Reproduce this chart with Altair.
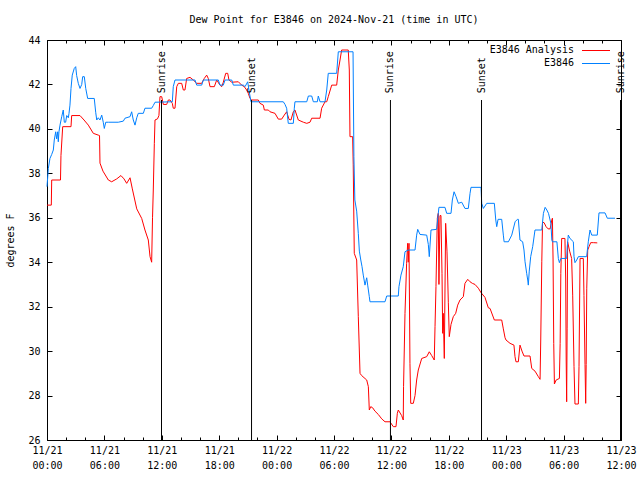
import altair as alt
import pandas as pd

# ---------------- data (hours after 2024-11-21 00:00 UTC) ----------------
analysis_hours = [0.00, 0.45, 0.49, 1.41, 1.46, 1.64, 2.51, 2.58, 3.45, 3.87, 4.32, 4.84, 5.36, 5.49, 5.54,
                  5.85, 6.41, 6.76, 7.29, 7.73, 8.05, 8.33, 8.68, 8.92, 9.38, 9.90, 10.24, 10.59, 10.77,
                  10.94, 11.03, 11.11, 11.22, 11.29, 11.55, 11.70, 11.81, 11.99, 12.16, 12.51, 12.68,
                  12.86, 13.10, 13.20, 13.38, 13.56, 13.73, 14.08, 14.25, 14.42, 14.60, 14.95, 15.29,
                  15.65, 16.17, 16.44, 16.69, 16.86, 17.04, 17.49, 17.74, 18.08, 18.26, 18.43, 18.68,
                  18.89, 19.02, 19.31, 20.00, 20.35, 20.62, 20.87, 21.04, 21.22, 21.40, 22.09, 22.26,
                  22.61, 22.72, 23.14, 23.31, 23.83, 24.18, 24.53, 24.80, 25.05, 25.30, 25.50, 25.75,
                  25.92, 26.27, 26.80, 27.15, 27.49, 27.67, 28.54, 28.71, 29.06, 29.24, 29.40, 29.76,
                  30.28, 30.45, 30.63, 30.80, 31.49, 31.60, 31.67, 31.95, 32.01, 32.12, 32.37, 32.54,
                  32.72, 32.89, 33.42, 33.59, 33.69, 33.84, 34.04, 34.28, 34.63, 34.99, 35.33, 35.85,
                  36.20, 36.48, 36.62, 36.72, 37.07, 37.24, 37.27, 37.42, 37.59, 37.70, 37.76, 37.84,
                  37.94, 38.02, 38.29, 38.47, 38.64, 38.81, 39.17, 39.69, 39.96, 40.21, 40.48, 40.56,
                  40.66, 40.80, 40.90, 40.97, 41.08, 41.18, 41.29, 41.36, 41.42, 41.53, 41.67, 41.81,
                  41.95, 42.05, 42.23, 42.47, 42.72, 42.93, 43.17, 43.52, 43.69, 43.98, 44.22, 44.46,
                  44.74, 45.09, 45.37, 45.78, 46.13, 46.31, 46.76, 47.53, 47.70, 47.88, 47.98, 48.40,
                  48.81, 48.92, 49.02, 49.27, 49.44, 49.65, 49.86, 50.49, 50.67, 51.01, 51.36, 51.54,
                  51.61, 51.72, 51.80, 51.96, 52.17, 52.38, 52.59, 52.77, 52.83, 52.90, 52.97, 53.04,
                  53.22, 53.56, 53.64, 53.71, 53.80, 54.14, 54.22, 54.27, 54.32, 54.37, 54.42, 54.63,
                  54.84, 54.95, 55.09, 55.19, 55.54, 55.61, 55.72, 56.06, 56.13, 56.24, 56.31, 56.36,
                  56.42, 56.52, 56.66, 56.83, 57.11, 57.52]
analysis_values = [36.57, 36.57, 37.7, 37.7, 38.8, 40.1, 40.1, 40.6, 40.6, 40.4, 40.17, 39.8, 39.72, 39.7, 38.46,
                   38.1, 37.7, 37.62, 37.75, 37.9, 37.75, 37.55, 37.8, 37.3, 36.4, 35.97, 35.45, 35.0, 34.25,
                   34.0, 36.0, 37.25, 39.35, 40.4, 40.45, 40.6, 41.45, 41.45, 41.1, 41.1, 41.3,
                   41.3, 41.15, 40.93, 40.93, 41.9, 42.05, 42.05, 41.75, 41.75, 42.27, 42.32, 42.2,
                   42.05, 42.05, 42.27, 42.42, 42.27, 41.9, 41.9, 42.2, 41.97, 41.9, 42.1, 42.5,
                   42.5, 42.2, 42.1, 42.12, 41.97, 41.9, 41.75, 41.6, 41.37, 41.3, 41.3, 41.15,
                   41.07, 40.85, 40.85, 40.77, 40.7, 40.44, 40.44, 40.62, 40.77, 40.43, 40.4, 40.77,
                   40.85, 40.4, 40.3, 40.25, 40.3, 40.48, 40.48, 40.93, 41.22, 41.22, 41.45, 41.97,
                   41.97, 42.65, 43.1, 43.55, 43.55, 42.65, 39.65, 39.65, 38.38, 34.4, 34.1, 31.55,
                   29.0, 28.9, 28.7, 28.4, 27.35, 27.5, 27.45, 27.3, 27.15, 26.95, 26.82, 26.82,
                   26.6, 26.6, 27.2, 27.35, 27.1, 26.9, 28.4, 31.7, 33.95, 34.85, 34.0, 34.85,
                   29.45, 27.65, 27.65, 28.0, 28.7, 29.15, 29.67, 29.75, 29.97, 29.8, 29.6, 31.1,
                   32.9, 35.98, 36.2, 33.0, 36.1, 36.1, 33.5, 30.8, 31.7, 29.67, 35.75, 34.5,
                   32.2, 30.65, 31.2, 31.55, 31.7, 32.07, 32.3, 32.45, 33.05, 33.23, 33.12, 33.05,
                   33.0, 32.83, 32.63, 32.42, 31.95, 31.92, 31.4, 31.4, 31.0, 30.6, 30.5, 30.35,
                   30.27, 29.75, 29.52, 29.52, 30.27, 30.0, 29.78, 29.78, 29.22, 29.1, 28.85, 28.73,
                   30.5, 34.02, 35.8, 35.78, 35.6, 35.5, 35.5, 35.9, 35.98, 34.1, 30.35, 28.52,
                   28.7, 28.77, 30.35, 33.5, 35.07, 35.07, 33.2, 29.6, 27.72, 31.0, 34.92, 34.5,
                   34.17, 32.52, 29.3, 27.62, 27.62, 29.3, 34.17, 34.17, 32.5, 29.4, 27.65, 29.4,
                   32.83, 34.55, 34.7, 34.88, 34.88, 34.87]

obs_hours = [0.00, 0.14, 0.31, 0.49, 0.66, 0.76, 0.91, 1.01, 1.12, 1.18, 1.25, 1.36, 1.54, 1.70, 1.81,
             1.95, 2.06, 2.23, 2.30, 2.40, 2.51, 2.64, 2.85, 3.00, 3.10, 3.27, 3.45, 3.63, 3.73, 3.90,
             4.05, 4.25, 4.94, 5.09, 5.20, 5.36, 5.54, 5.72, 5.88, 5.99, 6.14, 6.41, 7.45, 7.98, 8.15,
             8.68, 8.85, 9.02, 9.20, 9.38, 9.54, 10.07, 10.24, 10.94, 11.11, 11.29, 13.10, 13.20,
             13.38, 15.47, 15.65, 16.17, 16.34, 17.91, 18.08, 18.43, 18.61, 19.31, 19.48, 20.52,
             20.70, 20.98, 21.11, 21.32, 24.70, 24.88, 25.05, 25.22, 25.75, 25.85, 25.92, 27.15,
             27.32, 27.67, 27.84, 28.26, 28.36, 28.54, 29.06, 29.24, 29.40, 30.28, 30.45, 31.99,
             32.08, 32.18, 32.37, 32.54, 32.65, 32.80, 32.93, 33.06, 33.24, 33.42, 33.52, 33.69,
             33.76, 35.33, 35.51, 36.72, 36.79, 37.00, 37.24, 37.42, 37.76, 38.47, 38.64, 38.75,
             38.99, 39.69, 39.86, 39.96, 40.14, 40.73, 40.90, 40.97, 41.60, 41.78, 42.23, 42.37,
             42.55, 42.76, 43.00, 43.35, 43.69, 44.04, 44.22, 44.32, 45.37, 45.44, 45.61, 45.97,
             46.76, 46.91, 47.01, 47.15, 47.53, 47.70, 47.78, 48.23, 48.58, 48.93, 49.17, 49.27,
             49.44, 49.72, 49.86, 49.97, 50.14, 50.25, 50.31, 50.41, 50.56, 50.77, 51.01, 51.72,
             51.89, 52.07, 52.25, 52.42, 52.67, 52.77, 52.83, 53.30, 53.45, 53.56, 53.71, 54.32,
             54.38, 54.49, 54.67, 55.02, 55.09, 55.19, 55.37, 55.54, 56.41, 56.58, 56.76, 56.94,
             57.52, 57.70, 58.33, 58.57, 59.37]
obs_values = [37.4, 38.22, 38.67, 38.85, 39.05, 39.5, 39.87, 39.55, 39.87, 39.42, 39.87, 40.17, 40.55, 40.85, 40.3,
              40.3, 40.6, 40.5, 40.7, 41.07, 41.82, 42.42, 42.72, 42.8, 42.4, 42.05, 41.82, 42.0, 42.35, 42.35,
              41.82, 41.37, 41.37, 40.75, 40.4, 40.5, 40.4, 40.62, 40.3, 40.02, 40.3, 40.3, 40.3, 40.35, 40.48,
              40.55, 40.77, 40.4, 40.17, 40.5, 40.7, 40.7, 40.93, 40.93, 41.05, 41.2, 41.22, 41.9,
              42.2, 42.2, 41.97, 41.97, 42.2, 42.2, 41.97, 41.97, 42.2, 42.2, 41.97, 41.97,
              41.9, 42.12, 41.75, 41.22, 41.22, 41.1, 40.93, 40.25, 40.25, 40.93, 41.22, 41.22,
              41.48, 41.48, 41.22, 41.22, 41.48, 41.22, 41.22, 41.75, 42.5, 42.5, 43.47, 43.47,
              38.75, 36.8, 36.3, 35.3, 34.5, 34.1, 33.8, 33.42, 32.97, 33.3, 32.97, 32.45,
              32.22, 32.22, 32.48, 32.48, 32.9, 33.42, 33.8, 34.47, 34.55, 34.55, 35.22, 35.48,
              35.25, 35.22, 34.8, 34.25, 35.45, 35.48, 36.2, 36.47, 36.47, 36.2, 36.2, 36.8,
              37.17, 36.95, 36.65, 36.7, 36.42, 36.42, 37.1, 37.37, 37.37, 36.65, 36.42, 36.65,
              36.65, 35.9, 35.6, 35.93, 35.93, 35.22, 34.92, 34.92, 35.22, 35.82, 35.93, 35.93,
              35.0, 34.92, 34.55, 34.02, 33.5, 33.2, 32.97, 33.6, 34.25, 34.7, 35.45, 35.45,
              36.2, 36.47, 36.35, 36.2, 35.75, 35.0, 34.92, 34.92, 34.17, 33.98, 34.17, 34.17,
              34.7, 35.22, 35.07, 34.92, 34.25, 33.98, 34.1, 34.25, 34.25, 34.92, 35.45, 35.22,
              35.22, 36.22, 36.22, 35.98, 35.98]

event_names = ["Sunrise", "Sunset", "Sunrise", "Sunset", "Sunrise"]
event_hours = [11.97, 21.38, 35.90, 45.42, 59.95]

x_major = [0, 6, 12, 18, 24, 30, 36, 42, 48, 54, 60]
x_minor = list(range(0, 61, 2))
y_ticks = [26, 28, 30, 32, 34, 36, 38, 40, 42, 44]

series_names = ["E3846 Analysis", "E3846"]
series_colors = ["#ff0000", "#0080ff"]

title_text = "Dew Point for E3846 on 2024-Nov-21 (time in UTC)"
y_title = "degrees F"

# ---------------- tables ----------------
df_a = pd.DataFrame({"hour": analysis_hours, "value": analysis_values, "series": series_names[0]})
df_o = pd.DataFrame({"hour": obs_hours, "value": obs_values, "series": series_names[1]})
df_a["idx"] = range(len(df_a))
df_o["idx"] = range(len(df_o))
df = pd.concat([df_a, df_o], ignore_index=True)
df_events = pd.DataFrame({"hour": event_hours, "name": event_names})
df_frame = pd.DataFrame({"hour": [0, 60], "value": [26, 44]})

FONT = "DejaVu Sans Mono"
FS = 10
XS = alt.Scale(domain=[0, 60], nice=False, zero=False)
YS = alt.Scale(domain=[26, 44], nice=False, zero=False)

label_expr = ("['11/' + (21 + floor(datum.value / 24)), "
              "((datum.value % 24) < 10 ? '0' : '') + (datum.value % 24) + ':00']")

common = dict(domain=False, grid=False, tickColor="black", tickWidth=1,
              labelFont=FONT, labelFontSize=FS, labelColor="black")

lines = alt.Chart(df).mark_line(strokeWidth=1).encode(
    x=alt.X("hour:Q", scale=XS, axis=alt.Axis(
        orient="bottom", values=x_major, tickSize=5, offset=-5, labelExpr=label_expr,
        labelPadding=5, labelLineHeight=15, labelFlush=False, labelOverlap=False, title=None, **common)),
    y=alt.Y("value:Q", scale=YS, axis=alt.Axis(
        orient="left", values=y_ticks, tickSize=5, offset=-5, labelPadding=7, format="d",
        title=y_title, titleFont=FONT, titleFontSize=FS, titleFontWeight="normal",
        titleColor="black", titlePadding=12, **common)),
    color=alt.Color("series:N", scale=alt.Scale(domain=series_names, range=series_colors), legend=None),
    order=alt.Order("idx:Q"),
)

def carrier(xaxis, yaxis):
    return alt.Chart(df_frame).mark_point(opacity=0).encode(
        x=alt.X("hour:Q", scale=XS, axis=xaxis),
        y=alt.Y("value:Q", scale=YS, axis=yaxis),
    )

c1 = carrier(alt.Axis(orient="bottom", values=x_minor, tickSize=3, offset=-3, labels=False, title=None, **common),
             alt.Axis(orient="right", values=y_ticks, tickSize=5, offset=-5, labels=False, title=None, **common))
c2 = carrier(alt.Axis(orient="top", values=x_major, tickSize=5, offset=-5, labels=False, title=None, **common), None)
c3 = carrier(alt.Axis(orient="top", values=x_minor, tickSize=3, offset=-3, labels=False, title=None, **common), None)

rules = alt.Chart(df_events).mark_rule(color="black", strokeWidth=1).encode(
    x=alt.X("hour:Q", scale=XS, axis=None),
    y=alt.YDatum(26, scale=YS, axis=None),
    y2=alt.Y2Datum(41.3),
)
ev_text = alt.Chart(df_events).mark_text(
    angle=270, align="left", baseline="middle", font=FONT, fontSize=FS, color="black"
).encode(
    x=alt.X("hour:Q", scale=XS, axis=None),
    y=alt.YDatum(41.6, scale=YS, axis=None),
    text="name:N",
)

legend_layers = []
for i, (nm, col) in enumerate(zip(series_names, series_colors)):
    ypix = 10 + 13 * i
    legend_layers.append(
        alt.Chart(pd.DataFrame({"label": [nm]})).mark_text(
            align="right", baseline="middle", font=FONT, fontSize=FS, color="black"
        ).encode(x=alt.value(527), y=alt.value(ypix), text="label:N"))
    legend_layers.append(
        alt.Chart(pd.DataFrame({"label": [nm]})).mark_rule(color=col, strokeWidth=1).encode(
            x=alt.value(535), x2=alt.value(563), y=alt.value(ypix + 0.5)))

chart = alt.layer(lines, c1, c2, c3, rules, ev_text, *legend_layers).resolve_axis(
    x="independent", y="independent"
).properties(
    width=574, height=400,
    title=alt.TitleParams(title_text, font=FONT, fontSize=FS, fontWeight="normal", color="black",
                          anchor="middle", baseline="bottom", offset=0),
    padding={"left": 47, "top": 40, "right": 19, "bottom": 40},
    autosize=alt.AutoSizeParams(type="none"),
    background="white",
).configure_view(stroke="black", strokeWidth=1)

chart.save("out.html", embed_options={"renderer": "svg", "actions": False})
